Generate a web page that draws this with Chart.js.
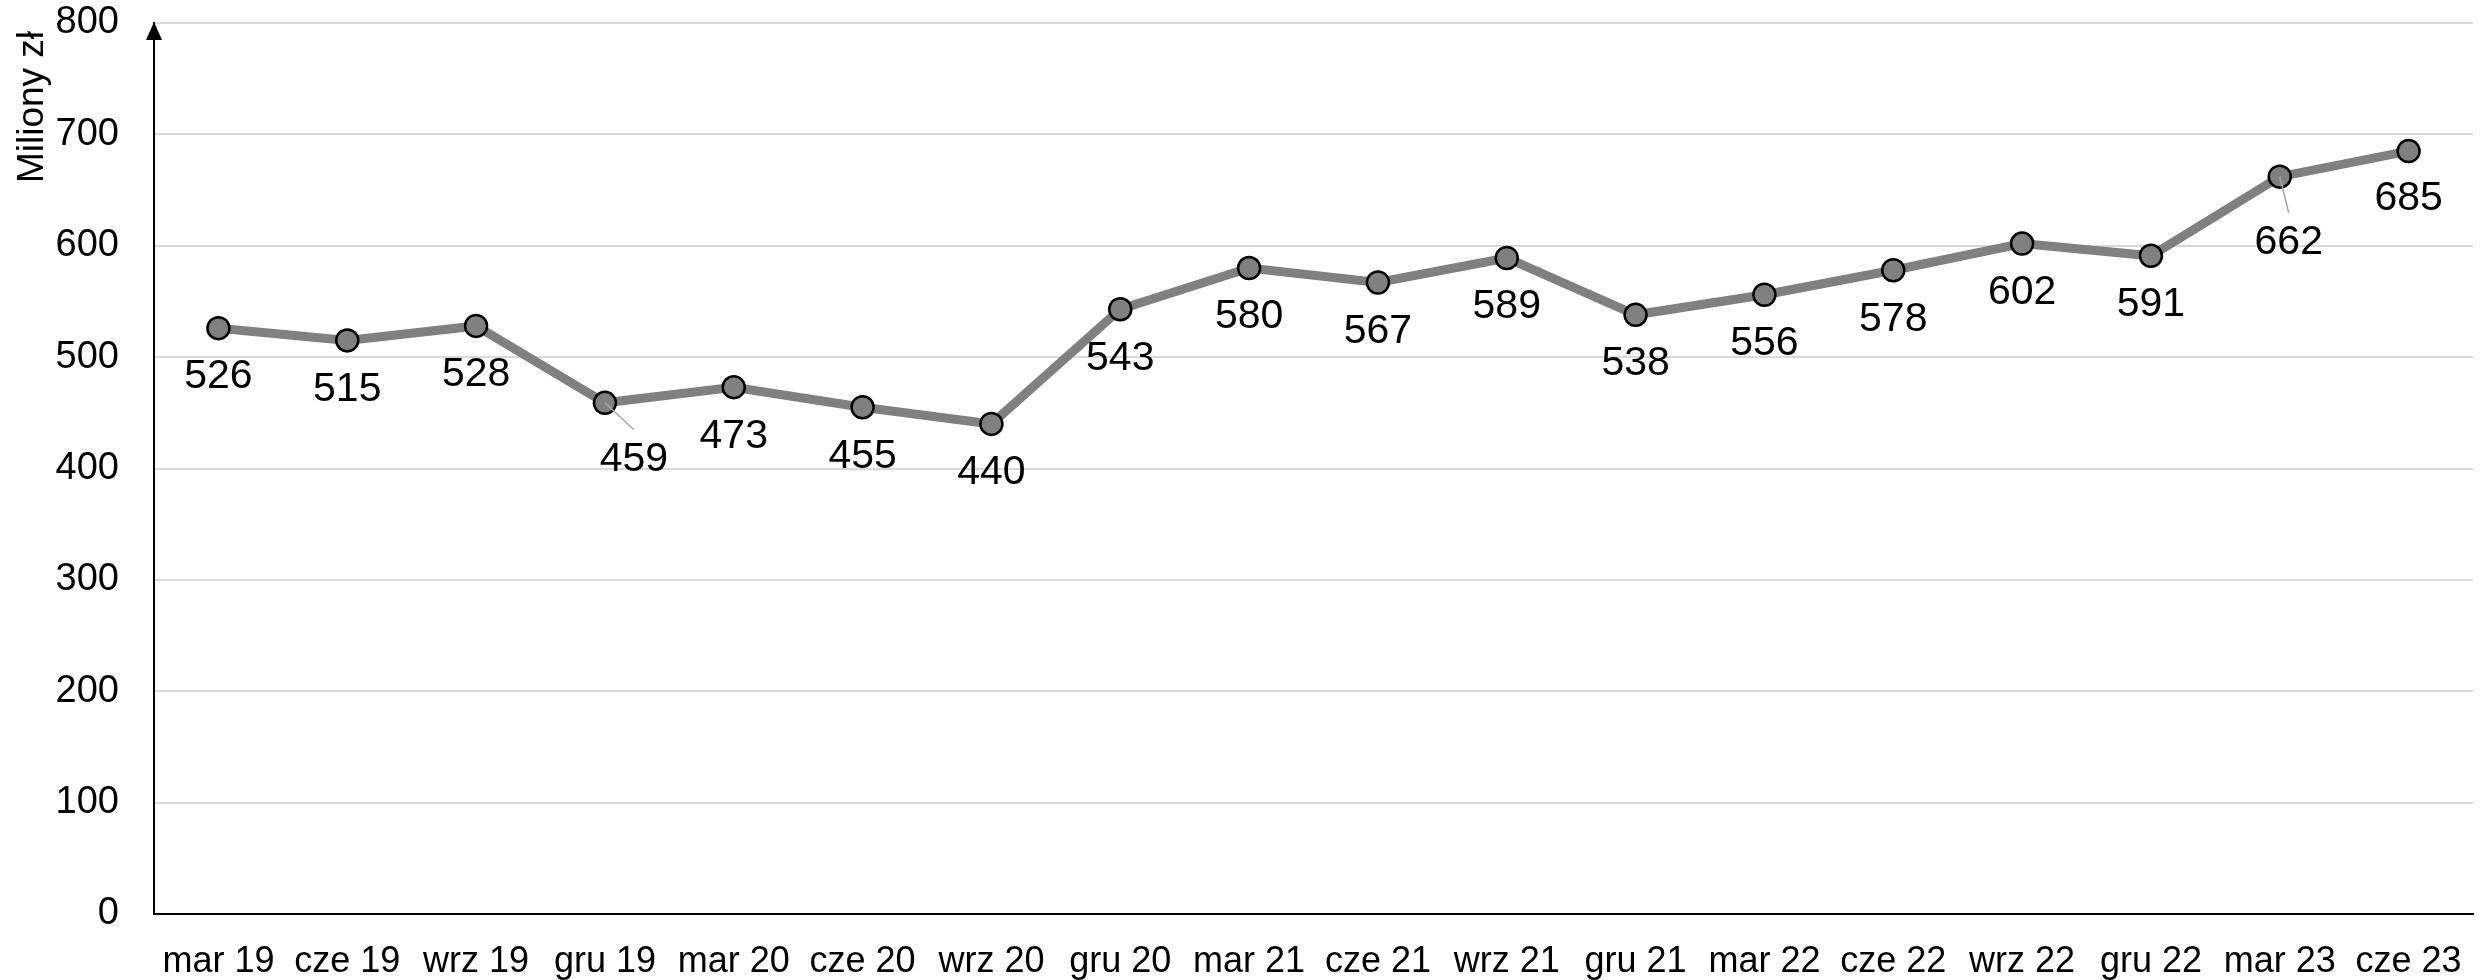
<!DOCTYPE html>
<html>
<head>
<meta charset="utf-8">
<script src="https://cdn.jsdelivr.net/npm/chart.js@4.4.1/dist/chart.umd.min.js"></script>
<style>
  html, body { margin: 0; padding: 0; background: #fff; }
  #wrap { width: 2488px; height: 980px; }
</style>
</head>
<body>
<div id="wrap"><canvas id="myChart"></canvas></div>
<script>
const categories = ['mar 19', 'cze 19', 'wrz 19', 'gru 19', 'mar 20', 'cze 20', 'wrz 20', 'gru 20',
  'mar 21', 'cze 21', 'wrz 21', 'gru 21', 'mar 22', 'cze 22', 'wrz 22', 'gru 22', 'mar 23', 'cze 23'];
const values = [526, 515, 528, 459, 473, 455, 440, 543, 580, 567, 589, 538, 556, 578, 602, 591, 662, 685];
const yTicks = [0, 100, 200, 300, 400, 500, 600, 700, 800];
const yTitle = 'Miliony zł';

// label placement (layout only): default under the point, a few moved with leader lines
const labelOffset = [0, 49];
const movedLabels = { 3: [29, 57], 16: [9, 66], 17: [0, 48] };
const leaderLabels = [3, 16];

const FONT = 'Liberation Sans, Arial, sans-serif';

const extras = {
  id: 'extras',
  afterDatasetsDraw(chart) {
    const ctx = chart.ctx;
    const pts = chart.getDatasetMeta(0).data;
    ctx.save();
    pts.forEach((p, i) => {
      const off = movedLabels[i] || labelOffset;
      const lx = p.x + off[0];
      const ly = p.y + off[1];
      if (leaderLabels.includes(i)) {
        ctx.strokeStyle = '#a6a6a6';
        ctx.lineWidth = 1.5;
        ctx.beginPath();
        ctx.moveTo(p.x, p.y);
        ctx.lineTo(lx, ly - 30);
        ctx.stroke();
      }
      ctx.fillStyle = '#000';
      ctx.font = '41px ' + FONT;
      ctx.textAlign = 'center';
      ctx.textBaseline = 'middle';
      ctx.fillText(String(values[i]), lx, ly);
    });
    ctx.restore();
  },
  afterDraw(chart) {
    const ctx = chart.ctx;
    const a = chart.chartArea;
    ctx.save();
    // arrow on the y axis
    ctx.fillStyle = '#000';
    ctx.beginPath();
    ctx.moveTo(a.left, a.top - 1);
    ctx.lineTo(a.left - 8, a.top + 17);
    ctx.lineTo(a.left + 8, a.top + 17);
    ctx.closePath();
    ctx.fill();
    // y axis title
    ctx.translate(43, 107);
    ctx.rotate(-Math.PI / 2);
    ctx.font = '37px ' + FONT;
    ctx.textAlign = 'center';
    ctx.textBaseline = 'alphabetic';
    ctx.fillText(yTitle, 0, 0);
    ctx.restore();
  }
};

new Chart(document.getElementById('myChart').getContext('2d'), {
  type: 'line',
  data: {
    labels: categories,
    datasets: [{
      data: values,
      borderColor: '#808080',
      borderWidth: 9,
      pointRadius: 11,
      pointBackgroundColor: '#808080',
      pointBorderColor: '#000',
      pointBorderWidth: 2.5,
      tension: 0
    }]
  },
  options: {
    responsive: true,
    maintainAspectRatio: false,
    animation: false,
    layout: { padding: { top: 23, right: 5, left: 0, bottom: 0 } },
    plugins: { legend: { display: false }, tooltip: { enabled: false } },
    scales: {
      x: {
        offset: true,
        grid: { display: false, drawTicks: false },
        border: { color: '#000', width: 2 },
        ticks: {
          color: '#000', font: { family: FONT, size: 36 },
          padding: 26, autoSkip: false, maxRotation: 0
        },
        afterFit(s) { s.height = 66; }
      },
      y: {
        min: 0,
        max: 800,
        afterBuildTicks(s) { s.ticks = yTicks.map(v => ({ value: v })); },
        grid: { color: '#d9d9d9', lineWidth: 2, drawTicks: false },
        border: { color: '#000', width: 2 },
        ticks: { color: '#000', font: { family: FONT, size: 38 }, padding: 35 },
        afterFit(s) { s.width = 154; s.paddingTop = 0; s.paddingBottom = 0; }
      }
    }
  },
  plugins: [extras]
});
</script>
</body>
</html>
